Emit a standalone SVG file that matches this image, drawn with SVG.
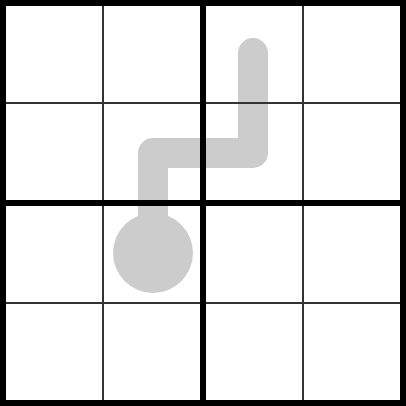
<svg xmlns="http://www.w3.org/2000/svg" width="406" height="406" viewBox="0 0 406 406">
<style>
.thin{stroke:#333;stroke-width:2;fill:none}
.thick{stroke:#000;stroke-width:6;fill:none}
.line{stroke:#ccc;stroke-width:30;fill:none;stroke-linecap:round;stroke-linejoin:round}
</style>
<rect width="406" height="406" fill="#fff"/>
<g id="path">
<circle cx="153" cy="253" r="40" fill="#ccc"/>
<polyline class="line" points="153,253 153,153 253,153 253,53"/>
</g>
<g id="grid">
<path class="thin" d="M103,3V403M303,3V403M3,103H403M3,303H403"/>
<path class="thick" d="M3,0V406M203,0V406M403,0V406M0,3H406M0,203H406M0,403H406"/>
</g>
</svg>
